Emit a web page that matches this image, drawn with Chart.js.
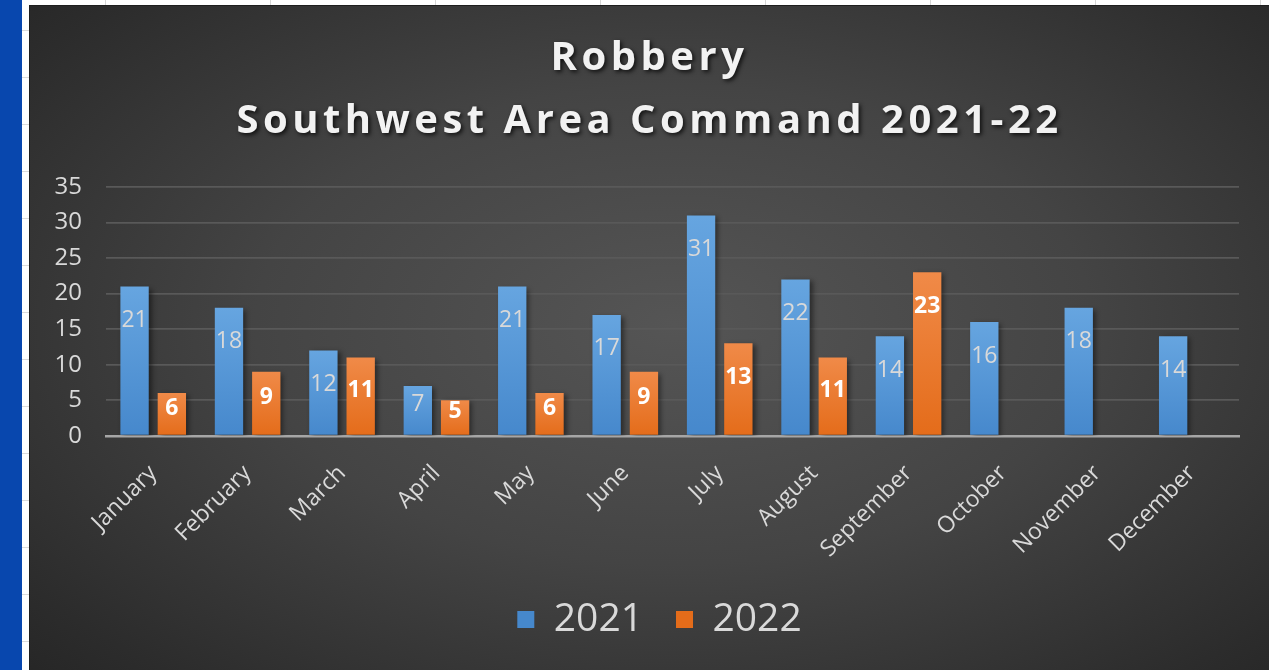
<!DOCTYPE html>
<html>
<head>
<meta charset="utf-8">
<script src="https://cdn.jsdelivr.net/npm/chart.js@4.4.1/dist/chart.umd.min.js"></script>
<style>
  html, body { margin: 0; padding: 0; }
  body {
    width: 1269px; height: 670px; overflow: hidden; position: relative;
    background: #ffffff;
  }
  .strip { position: absolute; left: 0; top: 0; width: 22px; height: 670px; background: #0847ae; }
  .sheet {
    position: absolute; left: 22px; top: 0; width: 1247px; height: 670px;
    background-image:
      repeating-linear-gradient(to right, transparent 0, transparent 83px, #d6d6d6 83px, #d6d6d6 84px, transparent 84px, transparent 165px),
      repeating-linear-gradient(to bottom, transparent 0, transparent 30px, #dadada 30px, #dadada 31px, transparent 31px, transparent 47px);
  }
  .chart-box {
    position: absolute; left: 29px; top: 5px; width: 1240px; height: 665px;
    box-sizing: border-box; border-top: 1px solid #1e1e1e; border-left: 1px solid #1e1e1e;
    background: radial-gradient(ellipse 75% 80% at 52% 48%, #555555 0%, #444444 45%, #2c2c2c 85%, #242424 100%);
  }
</style>
</head>
<body>
<div class="strip"></div>
<div class="sheet"></div>
<div class="chart-box"><canvas id="robberyChart"></canvas></div>
<script>
const months = ['January', 'February', 'March', 'April', 'May', 'June',
  'July', 'August', 'September', 'October', 'November', 'December'];
const robbery2021 = [21, 18, 12, 7, 21, 17, 31, 22, 14, 16, 18, 14];
const robbery2022 = [6, 9, 11, 5, 6, 9, 13, 11, 23, null, null, null];
const titleLines = ['Robbery', 'Southwest Area Command 2021-22'];

// vertical gradient per bar, flat colour for legend swatches
function barFill(flat, top, bottom) {
  return function(c) {
    if (c.type !== 'data' || !c.chart.chartArea) return flat;
    const y = c.chart.scales.y;
    const yTop = y.getPixelForValue(c.parsed.y);
    const yBot = y.getPixelForValue(0);
    if (!isFinite(yTop)) return flat;
    const g = c.chart.ctx.createLinearGradient(0, yTop, 0, yBot);
    g.addColorStop(0, top);
    g.addColorStop(1, bottom);
    return g;
  };
}

// spaced, shadowed title like the Excel original; bar shadows; title/legend nudge
const stylePlugin = {
  id: 'excelStyle',
  afterLayout(chart) {
    if (chart.legend) {
      chart.legend.left += 25;
      chart.legend.right += 25;
    }
    if (chart.titleBlock) {
      chart.titleBlock.left += 15;
      chart.titleBlock.right += 15;
    }
  },
  beforeDraw(chart) {
    const tb = chart.titleBlock;
    if (tb && !tb._styled) {
      const orig = tb.draw;
      tb.draw = function() {
        const ctx = chart.ctx;
        ctx.save();
        ctx.letterSpacing = '4.5px';
        ctx.shadowColor = 'rgba(0,0,0,0.75)';
        ctx.shadowBlur = 4;
        ctx.shadowOffsetX = 2;
        ctx.shadowOffsetY = 2;
        orig.apply(this, arguments);
        ctx.restore();
      };
      tb._styled = true;
    }
  },
  beforeDatasetsDraw(chart) {
    const ctx = chart.ctx;
    ctx.save();
    ctx.shadowColor = 'rgba(0,0,0,0.45)';
    ctx.shadowBlur = 5;
    ctx.shadowOffsetX = 3;
    ctx.shadowOffsetY = 2;
  },
  afterDatasetsDraw(chart) {
    chart.ctx.restore();
  }
};

// value labels near the top inside each bar
const barLabelPlugin = {
  id: 'barLabels',
  afterDatasetsDraw(chart) {
    const ctx = chart.ctx;
    ctx.save();
    ctx.textAlign = 'center';
    ctx.textBaseline = 'middle';
    chart.data.datasets.forEach((ds, i) => {
      const meta = chart.getDatasetMeta(i);
      meta.data.forEach((bar, j) => {
        const v = ds.data[j];
        if (v === null || v === undefined) return;
        const h = bar.base - bar.y;
        const off = Math.min(34, h / 2 - 6);
        if (i === 0) {
          ctx.font = '23px "Open Sans"';
          ctx.fillStyle = '#d9d9d9';
        } else {
          ctx.font = 'bold 23px "Open Sans"';
          ctx.fillStyle = '#ffffff';
        }
        ctx.fillText(String(v), bar.x, bar.y + off);
      });
    });
    ctx.restore();
  }
};

new Chart(document.getElementById('robberyChart'), {
  type: 'bar',
  data: {
    labels: months,
    datasets: [{
      label: '2021',
      data: robbery2021,
      backgroundColor: barFill('#5b9bd5', '#66a5e0', '#4688cc'),
      borderWidth: 0,
      categoryPercentage: 0.79,
      barPercentage: 0.76
    }, {
      label: '2022',
      data: robbery2022,
      backgroundColor: barFill('#ed7d31', '#f08a48', '#e46c1a'),
      borderWidth: 0,
      categoryPercentage: 0.79,
      barPercentage: 0.76
    }]
  },
  plugins: [stylePlugin, barLabelPlugin],
  options: {
    responsive: true,
    maintainAspectRatio: false,
    animation: false,
    layout: { padding: { top: 21, right: 30, bottom: 21, left: 0 } },
    plugins: {
      title: {
        display: true,
        text: titleLines,
        color: '#f2f2f2',
        font: { family: 'Open Sans', size: 40, weight: 'bold', lineHeight: 1.575 },
        padding: { top: 0, bottom: 34 }
      },
      legend: {
        position: 'bottom',
        labels: {
          color: '#d9d9d9',
          font: { family: 'Open Sans', size: 39 },
          boxWidth: 17,
          boxHeight: 17,
          padding: 33
        }
      },
      tooltip: { enabled: false }
    },
    scales: {
      x: {
        afterFit(scale) { scale.height -= 20; },
        grid: { display: false, drawTicks: false },
        border: { display: true, color: '#a6a6a6', width: 2.5 },
        ticks: {
          color: '#d9d9d9',
          font: { family: 'Open Sans', size: 23 },
          minRotation: 45,
          maxRotation: 45,
          padding: 24
        }
      },
      y: {
        min: 0,
        max: 35,
        afterFit(scale) { scale.width = 76; },
        grid: { color: '#595959', lineWidth: 1.8, drawTicks: false },
        border: { display: false },
        ticks: {
          stepSize: 5,
          color: '#d9d9d9',
          font: { family: 'Open Sans', size: 24 },
          padding: 24
        }
      }
    }
  }
});
</script>
</body>
</html>
